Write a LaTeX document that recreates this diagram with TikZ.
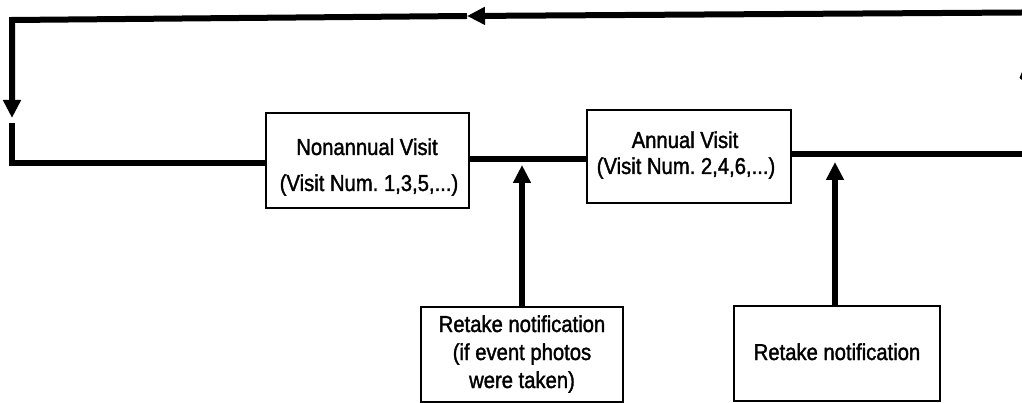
\documentclass[tikz,border=0pt]{standalone}
\usepackage{fontspec}
\setmainfont{Liberation Sans}[FakeStretch=0.88, FakeBold=1.5]
\usetikzlibrary{arrows.meta}
\frenchspacing
\begin{document}
\begin{tikzpicture}[x=1pt,y=-1pt,
  heavy/.style={line width=6pt, line join=miter},
  tip/.style={-{Triangle[length=18pt,width=17pt]}},
  box/.style={draw, line width=1.5pt, inner sep=0pt},
  lbl/.style={anchor=base, inner sep=0pt, font=\fontsize{23}{27}\selectfont}]
\useasboundingbox (0,0) rectangle (1022,403);

% visit boxes
\node[box, minimum width=203pt, minimum height=95pt] (nv) at (367.5,160.5) {};
\node[box, minimum width=204pt, minimum height=93pt] (av) at (689,156.5) {};
% retake boxes
\node[box, minimum width=202pt, minimum height=95pt] (r1) at (522,354.5) {};
\node[box, minimum width=206pt, minimum height=95pt] (r2) at (837,353.5) {};

% box texts
\node[lbl] (nvA) at (367,155) {Nonannual Visit};
\node[lbl] (nvB) at (369,191) {(Visit Num. 1,3,5,...)};
\node[lbl] (avA) at (685,148) {Annual Visit};
\node[lbl] (avB) at (686,174) {(Visit Num. 2,4,6,...)};
\node[lbl] (r1A) at (522,332) {Retake notification};
\node[lbl] (r1B) at (522,360) {(if event photos};
\node[lbl] (r1C) at (522,388) {were taken)};
\node[lbl] (r2A) at (837,360) {Retake notification};

% loop-back path along the top and down the left side
\coordinate (topR) at (1022,12.5);
\coordinate (topM) at (467,16);
\coordinate (topL) at (12,20);
\coordinate (downTip) at (12,118);
\coordinate (downStart) at (12,123);
\coordinate (downCorner) at (12,163);
\coordinate (rightEnd) at (1022,154);

\draw[heavy, tip] (topR) -- (topM);
\draw[heavy, tip] (topM) -- (topL) -- (downTip);
\draw[heavy] (downStart) -- (downCorner) -- (nv.west |- downCorner);

% main line through the visit boxes
\draw[heavy] (nv.east |- 0,159) -- (av.west |- 0,159);
\draw[heavy] (av.east |- rightEnd) -- (rightEnd);

% retake notifications feeding into the line
\coordinate (up1) at (522,165);
\coordinate (up2) at (835,162);
\draw[heavy, tip] (r1.north -| up1) -- (up1);
\draw[heavy, tip] (r2.north -| up2) -- (up2);

% arrowhead fragment at the right edge
\fill (1019.5,78) -- (1022,72) -- (1022,80) -- cycle;
\end{tikzpicture}
\end{document}
